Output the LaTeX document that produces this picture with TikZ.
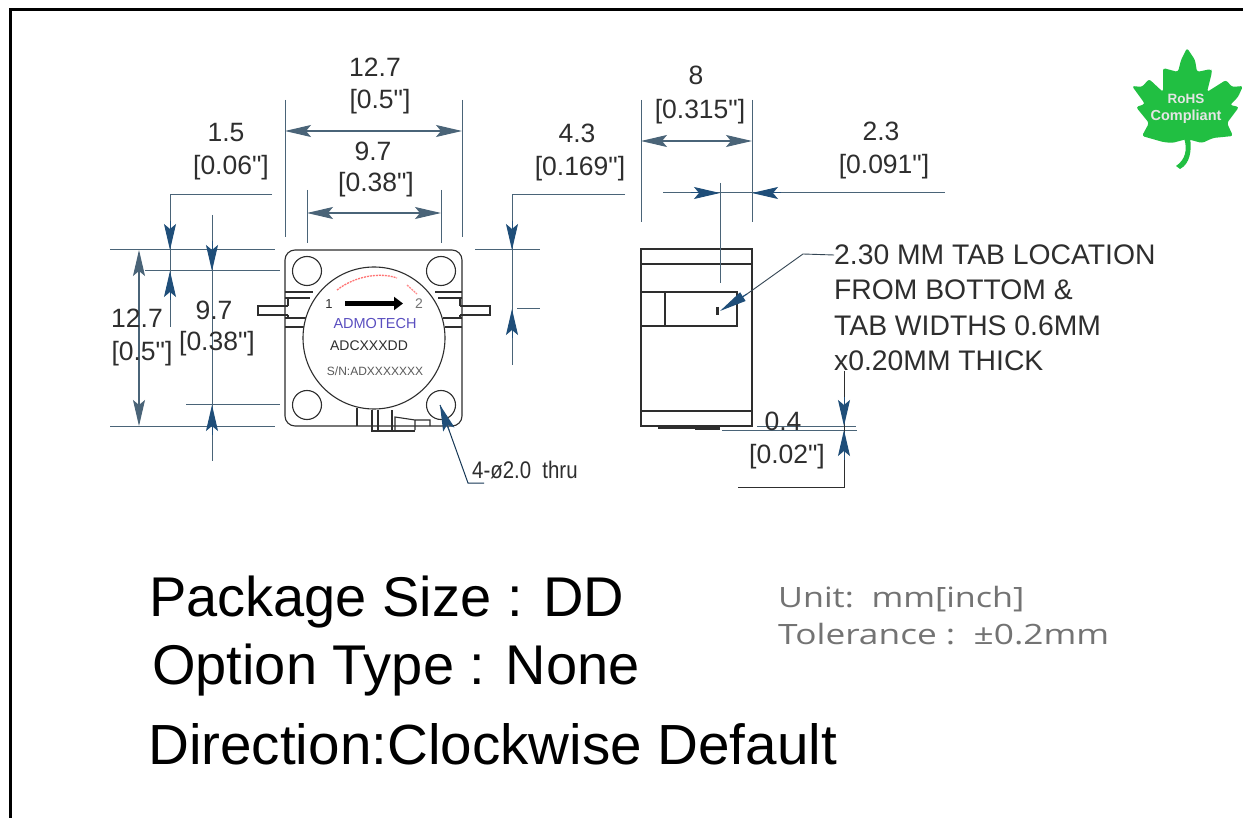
\documentclass[tikz,border=0pt]{standalone}
\usepackage{fontspec}
\setmainfont[Ligatures=TeXOff]{Liberation Sans}
\newfontfamily\thinfont{Open Sans}
\usetikzlibrary{arrows.meta}
\definecolor{dimblue}{HTML}{1F4E79}
\definecolor{dimline}{HTML}{4A6478}
\definecolor{inkdark}{HTML}{2E2E2E}
\definecolor{leafgreen}{HTML}{21BF42}
\definecolor{admoblue}{HTML}{5A4FC0}
\tikzset{
  x=1pt,y=-1pt,
  dimtip/.style={-{Stealth[length=26pt,width=12pt,inset=5pt]},color=dimblue,line width=1pt},
  dimboth/.style={{Stealth[length=26pt,width=12pt,inset=5pt]}-{Stealth[length=26pt,width=12pt,inset=5pt]},color=dimline,line width=1.1pt},
  ext/.style={color=dimline,line width=1pt},
  part/.style={color=inkdark,line width=1.1pt},
  dimtext/.style={font=\fontsize{26.5}{26.5}\selectfont,text=inkdark,inner sep=0pt,anchor=center},
  notetext/.style={font=\fontsize{28.3}{28.3}\selectfont,text=inkdark,inner sep=0pt,anchor=west},
  bigtext/.style={font=\fontsize{56}{56}\selectfont,text=black,inner sep=0pt,anchor=west},
  thintext/.style={font=\thinfont\fontsize{28}{28}\selectfont,text=black!55,inner sep=0pt,anchor=west},
  marktext/.style={inner sep=0pt,anchor=center,text=inkdark}
}
\begin{document}
\begin{tikzpicture}
\useasboundingbox (0,0) rectangle (1243,818);
\fill[white] (0,0) rectangle (1243,818);
% frame
\draw[black,line width=2.6pt] (1243,9.5) -- (10.5,9.5) -- (10.5,818);

% ---------- front view body
\draw[part,rounded corners=10pt] (285,250) rectangle (462,426);
\foreach \cx/\cy in {307/271,441/271,307/405,441/405}
  \draw[part] (\cx,\cy) circle[radius=14.5];
% side tabs and slots
\draw[part] (285,292) -- (313,292) (285,298) -- (310,298);
\draw[part] (285,318) -- (306,318) (285,327) -- (305,327);
\draw[part] (462,292) -- (435,292) (462,298) -- (438,298);
\draw[part] (462,318) -- (443,318) (462,327) -- (445,327);
\draw[part] (288,306) -- (258,306) -- (258,315) -- (288,315);
\draw[part] (460,306) -- (490,306) -- (490,315) -- (460,315);
\draw[part] (288,298) -- (288,306) (288,315) -- (288,318);
\draw[part] (460,298) -- (460,306) (460,315) -- (460,318);
% circulator disc
\filldraw[part,fill=white] (374,338) circle[radius=71];
% bottom connector
\draw[part] (357,408) -- (357,426) (372,410) -- (372,430) (378,410) -- (378,430) (392,410) -- (392,430);
\draw[part] (395,430) -- (395,417) -- (415,420) -- (415,430) (415,420) -- (430,420) -- (430,426);
\draw[part,line width=1.6pt] (371,431) -- (415,431);
% disc marks
\draw[red!55,line width=1.3pt,dash pattern=on 2pt off 1pt] (337,290) .. controls (355,276) and (380,272) .. (397,278);
\draw[red!45,line width=1.3pt,dash pattern=on 2pt off 1pt] (407,285) -- (417,294);
\node[marktext,font=\fontsize{13}{13}\selectfont] (portone) at (329,304) {1};
\node[marktext,font=\fontsize{14}{14}\selectfont,text=black!55] (porttwo) at (419,304) {2};
\draw[black,line width=4.5pt,-{Triangle[length=9pt,width=13pt]}] (345,303.5) -- (403,303.5);
\node[marktext,font=\fontsize{14.5}{14.5}\selectfont,text=admoblue] (brand) at (375,324) {ADMOTECH};
\node[marktext,font=\fontsize{14}{14}\selectfont] (model) at (369,346) {ADCXXXDD};
\node[marktext,font=\fontsize{12}{12}\selectfont,text=black!65] (serial) at (375,371) {S/N:ADXXXXXXX};

% ---------- front view dimensions
\draw[ext] (285,100) -- (285,237) (462,100) -- (462,237);
\draw[dimboth] (285,131) -- (462,131);
\node[dimtext] (dimA) at (375,67) {12.7};
\node[dimtext] (dimAi) at (380,102) {[0.5"]};
\draw[ext] (307,190) -- (307,243) (441,190) -- (441,243);
\draw[dimboth] (307,213) -- (441,213);
\node[dimtext] (dimB) at (373,151) {9.7};
\node[dimtext] (dimBi) at (376,185) {[0.38"]};

\draw[ext] (110,250) -- (275,250) (145,271) -- (280,271) (186,405) -- (280,405) (110,426) -- (275,426);
\draw[dimboth] (139,250) -- (139,426);
\draw[ext] (212,215) -- (212,461);
\draw[dimtip] (212,241) -- (212,271);
\draw[dimtip] (212,435) -- (212,405);
\draw[ext] (272,195) -- (170,195) -- (170,327);
\draw[dimtip] (170,221) -- (170,250);
\draw[dimtip] (170,300) -- (170,271);
\node[dimtext] (dimC) at (226,133) {1.5};
\node[dimtext] (dimCi) at (231,168) {[0.06"]};
\node[dimtext] (dimD) at (137,318) {12.7};
\node[dimtext] (dimDi) at (142,354) {[0.5"]};
\node[dimtext] (dimE) at (214,310) {9.7};
\node[dimtext] (dimEi) at (217,344) {[0.38"]};

\draw[ext] (625,195) -- (512,195) -- (512,365);
\draw[ext] (475,250) -- (540,250) (517,309) -- (540,309);
\draw[dimtip] (512,221) -- (512,250);
\draw[dimtip] (512,338) -- (512,309);
\node[dimtext] (dimF) at (577,133) {4.3};
\node[dimtext] (dimFi) at (580,169) {[0.169"]};

% hole callout
\coordinate (holetip) at (440,405);
\coordinate (holeknee) at (468,483);
\coordinate (holeend) at (484,483);
\draw[ext,color=dimblue!70!black] (holetip) -- (holeknee) -- (holeend);
\draw[dimtip] (449,430) -- (holetip);
\node[inner sep=0pt,anchor=west,text=inkdark,font=\fontsize{24}{24}\selectfont] (holenote) at (472,470) {\scalebox{.85}[1]{4-ø2.0\ \ thru}};

% ---------- side view
\draw[part] (641,249) rectangle (752,426);
\draw[part] (641,264) -- (752,264) (641,411) -- (752,411);
\draw[part] (641,292) -- (737,292) -- (737,326) -- (641,326) (665,292) -- (665,326);
\draw[part,line width=1.4pt] (658,428) -- (720,428);
\draw[part,line width=2.4pt] (695,429) -- (720,429);
\draw[part,line width=2.4pt] (717.5,307) -- (717.5,315);

\draw[ext] (641,100) -- (641,222) (752,100) -- (752,222);
\draw[dimboth] (641,141) -- (752,141);
\node[dimtext] (dimG) at (696,75) {8};
\node[dimtext] (dimGi) at (700,112) {[0.315"]};
\draw[ext] (720,183) -- (720,283);
\draw[ext] (663,193) -- (945,193);
\draw[dimtip] (691,193) -- (720,193);
\draw[dimtip] (781,193) -- (752,193);
\node[dimtext] (dimH) at (881,131) {2.3};
\node[dimtext] (dimHi) at (884,167) {[0.091"]};

% tab note
\node[notetext] (noteA) at (834,255) {2.30 MM TAB LOCATION};
\node[notetext] (noteB) at (834,290) {FROM BOTTOM \&};
\node[notetext] (noteC) at (834,326) {TAB WIDTHS 0.6MM};
\node[notetext] (noteD) at (834,361) {x0.20MM THICK};
\coordinate (tabtip) at (720,311);
\coordinate (tabknee) at (803,254);
\coordinate (tabtail) at (747,294);
\draw[dimline!70!black,line width=.9pt] (noteA.west) -- (tabknee) -- (tabtail);
\draw[color=dimblue,line width=1.2pt,-{Stealth[length=27pt,width=10pt,inset=0pt]}] (tabtail) -- (tabtip);

% 0.4 dimension
\draw[ext] (757,426) -- (856,426) (722,430) -- (857,430);
\draw[ext,color=inkdark] (844,371) -- (844,487) -- (738,487);
\draw[dimtip] (844,397) -- (844,426);
\draw[dimtip] (844,460) -- (844,430);
\node[dimtext] (dimJ) at (783,421) {0.4};
\node[dimtext] (dimJi) at (787,457) {[0.02"]};

% big captions
\node[bigtext] (capA) at (149,602) {Package Size : DD};
\node[bigtext] (capB) at (152,670) {Option Type : None};
\node[bigtext,font=\fontsize{56.6}{56.6}\selectfont] (capC) at (148,744) {Direction:Clockwise Default};
\node[thintext] (unitA) at (778,599) {\scalebox{1.22}[1]{Unit:\ \ mm[inch]}};
\node[thintext] (unitB) at (778,634) {\scalebox{1.26}[1]{Tolerance :\ \ ±0.2mm}};

% RoHS leaf
\fill[leafgreen,rounded corners=2.5pt]
 (1187,48) -- (1195,60) -- (1197,72) -- (1211,69) -- (1212,72) -- (1207,92)
 -- (1226,80) -- (1232,87) -- (1243,86) -- (1238,97) -- (1230,105) -- (1239,107)
 -- (1227,123) -- (1233,136) -- (1213,138) -- (1202,143) -- (1187,139)
 -- (1172,143) -- (1163,142) -- (1142,136) -- (1149,123) -- (1136,107) -- (1145,104)
 -- (1140,97) -- (1132,86) -- (1142,87) -- (1149,79) -- (1163,92) -- (1163,68)
 -- (1178,72) -- (1181,60) -- cycle;
\fill[leafgreen] (1184,138) .. controls (1188,150) and (1185,160) .. (1176,166)
  -- (1180,169) .. controls (1190,164) and (1192,150) .. (1190,138) -- cycle;
\node[marktext,font=\bfseries\fontsize{13.5}{13.5}\selectfont,text=black!10] (rohs) at (1186,99) {RoHS};
\node[marktext,font=\bfseries\fontsize{14.5}{14.5}\selectfont,text=black!10] (compliant) at (1186,117) {Compliant};
\end{tikzpicture}
\end{document}
